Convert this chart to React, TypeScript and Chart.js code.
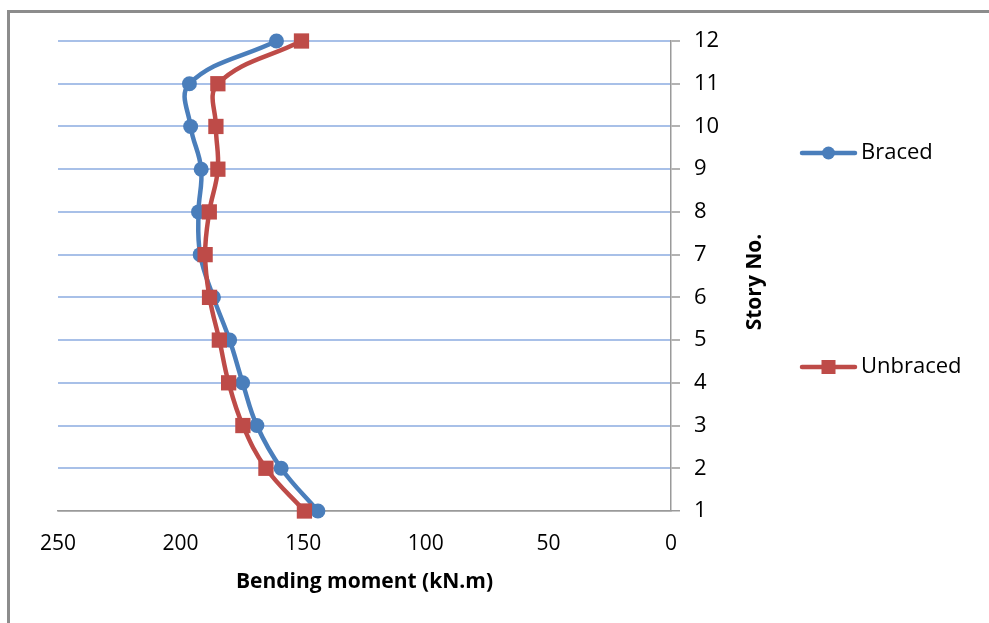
import { useEffect, useRef } from "react";
import { Chart, registerables } from "chart.js";

Chart.register(...registerables);

// Story numbers (vertical axis) and bending moments per story, kN.m
const stories = [1, 2, 3, 4, 5, 6, 7, 8, 9, 10, 11, 12];
const braced = [144.0, 159.0, 168.9, 174.7, 180.0, 186.6, 192.0, 192.7, 191.6, 195.9, 196.4, 160.9];
const unbraced = [149.5, 165.2, 174.6, 180.4, 184.2, 188.2, 190.0, 188.3, 184.8, 185.6, 184.8, 150.7];
const momentTicks = [250, 200, 150, 100, 50, 0];
const seriesNames = ["Braced", "Unbraced"];
const xTitle = "Bending moment (kN.m)";
const yTitle = "Story No.";

const BLUE = "#4A7EBB";
const RED = "#BE4B48";
const GRID = "#A8C0E8";
const AXIS = "#9a9a9a";
const FONT = "'Open Sans', sans-serif";

// Rotated axis title on the right and the spaced-out legend entries
const sideDecor = {
  id: "sideDecor",
  afterDraw(chart: any) {
    const ctx = chart.ctx as CanvasRenderingContext2D;
    const area = chart.chartArea;
    ctx.save();
    ctx.fillStyle = "#000";
    ctx.font = `bold 21px ${FONT}`;
    ctx.textAlign = "center";
    ctx.textBaseline = "middle";
    ctx.translate(area.right + 84, (area.top + area.bottom) / 2 + 6);
    ctx.rotate(-Math.PI / 2);
    ctx.fillText(yTitle, 0, 0);
    ctx.restore();

    const rows = [153, 367];
    const lineStart = area.right + 131;
    const lineEnd = lineStart + 53;
    chart.data.datasets.forEach((ds: any, i: number) => {
      const y = rows[i];
      ctx.save();
      ctx.strokeStyle = ds.borderColor;
      ctx.lineWidth = 4.5;
      ctx.lineCap = "round";
      ctx.beginPath();
      ctx.moveTo(lineStart, y);
      ctx.lineTo(lineEnd, y);
      ctx.stroke();
      ctx.fillStyle = ds.pointBackgroundColor;
      const cx = (lineStart + lineEnd) / 2;
      if (ds.pointStyle === "rect") {
        ctx.fillRect(cx - 7, y - 7, 14, 14);
      } else {
        ctx.beginPath();
        ctx.arc(cx, y, 6.5, 0, Math.PI * 2);
        ctx.fill();
      }
      ctx.fillStyle = "#000";
      ctx.font = `22px ${FONT}`;
      ctx.textAlign = "left";
      ctx.textBaseline = "middle";
      ctx.fillText(ds.label, lineEnd + 6, y);
      ctx.restore();
    });
  },
};

export default function App() {
  const ref = useRef<HTMLCanvasElement>(null);

  useEffect(() => {
    const canvas = ref.current;
    if (!canvas) return;
    const chart = new Chart(canvas, {
      type: "line",
      data: {
        datasets: [
          {
            label: seriesNames[0],
            data: stories.map((s, i) => ({ x: braced[i], y: s })),
            borderColor: BLUE,
            backgroundColor: BLUE,
            pointBackgroundColor: BLUE,
            pointBorderColor: BLUE,
            pointStyle: "circle",
            pointRadius: 7.5,
            pointBorderWidth: 0,
            borderWidth: 4.5,
            tension: 0.4,
            clip: false as any,
            order: 1,
          },
          {
            label: seriesNames[1],
            data: stories.map((s, i) => ({ x: unbraced[i], y: s })),
            borderColor: RED,
            backgroundColor: RED,
            pointBackgroundColor: RED,
            pointBorderColor: RED,
            pointStyle: "rect",
            pointRadius: 10.8,
            pointBorderWidth: 0,
            borderWidth: 4.5,
            tension: 0.4,
            clip: false as any,
            order: 0,
          },
        ],
      },
      options: {
        responsive: false,
        animation: false,
        indexAxis: "y",
        events: [],
        layout: { padding: { left: 58, top: 41, right: 218, bottom: 24 } },
        plugins: {
          legend: { display: false },
          tooltip: { enabled: false },
        },
        scales: {
          x: {
            type: "linear",
            reverse: true,
            min: 0,
            max: 250,
            afterBuildTicks: (s: any) => {
              s.ticks = momentTicks.map((v) => ({ value: v }));
            },
            afterFit: (s: any) => {
              s.height = 88;
            },
            grid: { display: false, drawTicks: false },
            border: { display: true, color: AXIS, width: 1.5 },
            ticks: {
              color: "#000",
              font: { family: FONT, size: 21 },
              padding: 20,
              maxRotation: 0,
            },
            title: {
              display: true,
              text: xTitle,
              color: "#000",
              font: { family: FONT, size: 21, weight: "bold" },
            },
          },
          y: {
            type: "linear",
            position: "right",
            min: 1,
            max: 12,
            afterBuildTicks: (s: any) => {
              s.ticks = stories.map((v) => ({ value: v }));
            },
            afterFit: (s: any) => {
              s.width = 100;
            },
            grid: {
              color: (c: any) => (c.tick && c.tick.value === 1 ? AXIS : GRID),
              lineWidth: (c: any) => (c.tick && c.tick.value === 1 ? 1.5 : 2),
              tickColor: AXIS,
              tickWidth: 1.5,
              tickLength: 9,
            },
            border: { display: true, color: AXIS, width: 1.5 },
            ticks: {
              color: "#000",
              font: { family: FONT, size: 22 },
              padding: 14,
            },
          },
        },
      } as any,
      plugins: [sideDecor],
    });
    return () => chart.destroy();
  }, []);

  return (
    <div
      style={{
        position: "fixed",
        left: 0,
        top: 0,
        width: 989,
        height: 623,
        background: "#fff",
        overflow: "hidden",
      }}
    >
      <div
        style={{
          position: "absolute",
          left: 7,
          top: 10,
          right: -10,
          bottom: -10,
          borderLeft: "3px solid #8c8c8c",
          borderTop: "3px solid #8c8c8c",
        }}
      />
      <canvas
        ref={ref}
        width={989}
        height={623}
        style={{ position: "absolute", left: 0, top: 0, width: 989, height: 623 }}
      />
    </div>
  );
}
